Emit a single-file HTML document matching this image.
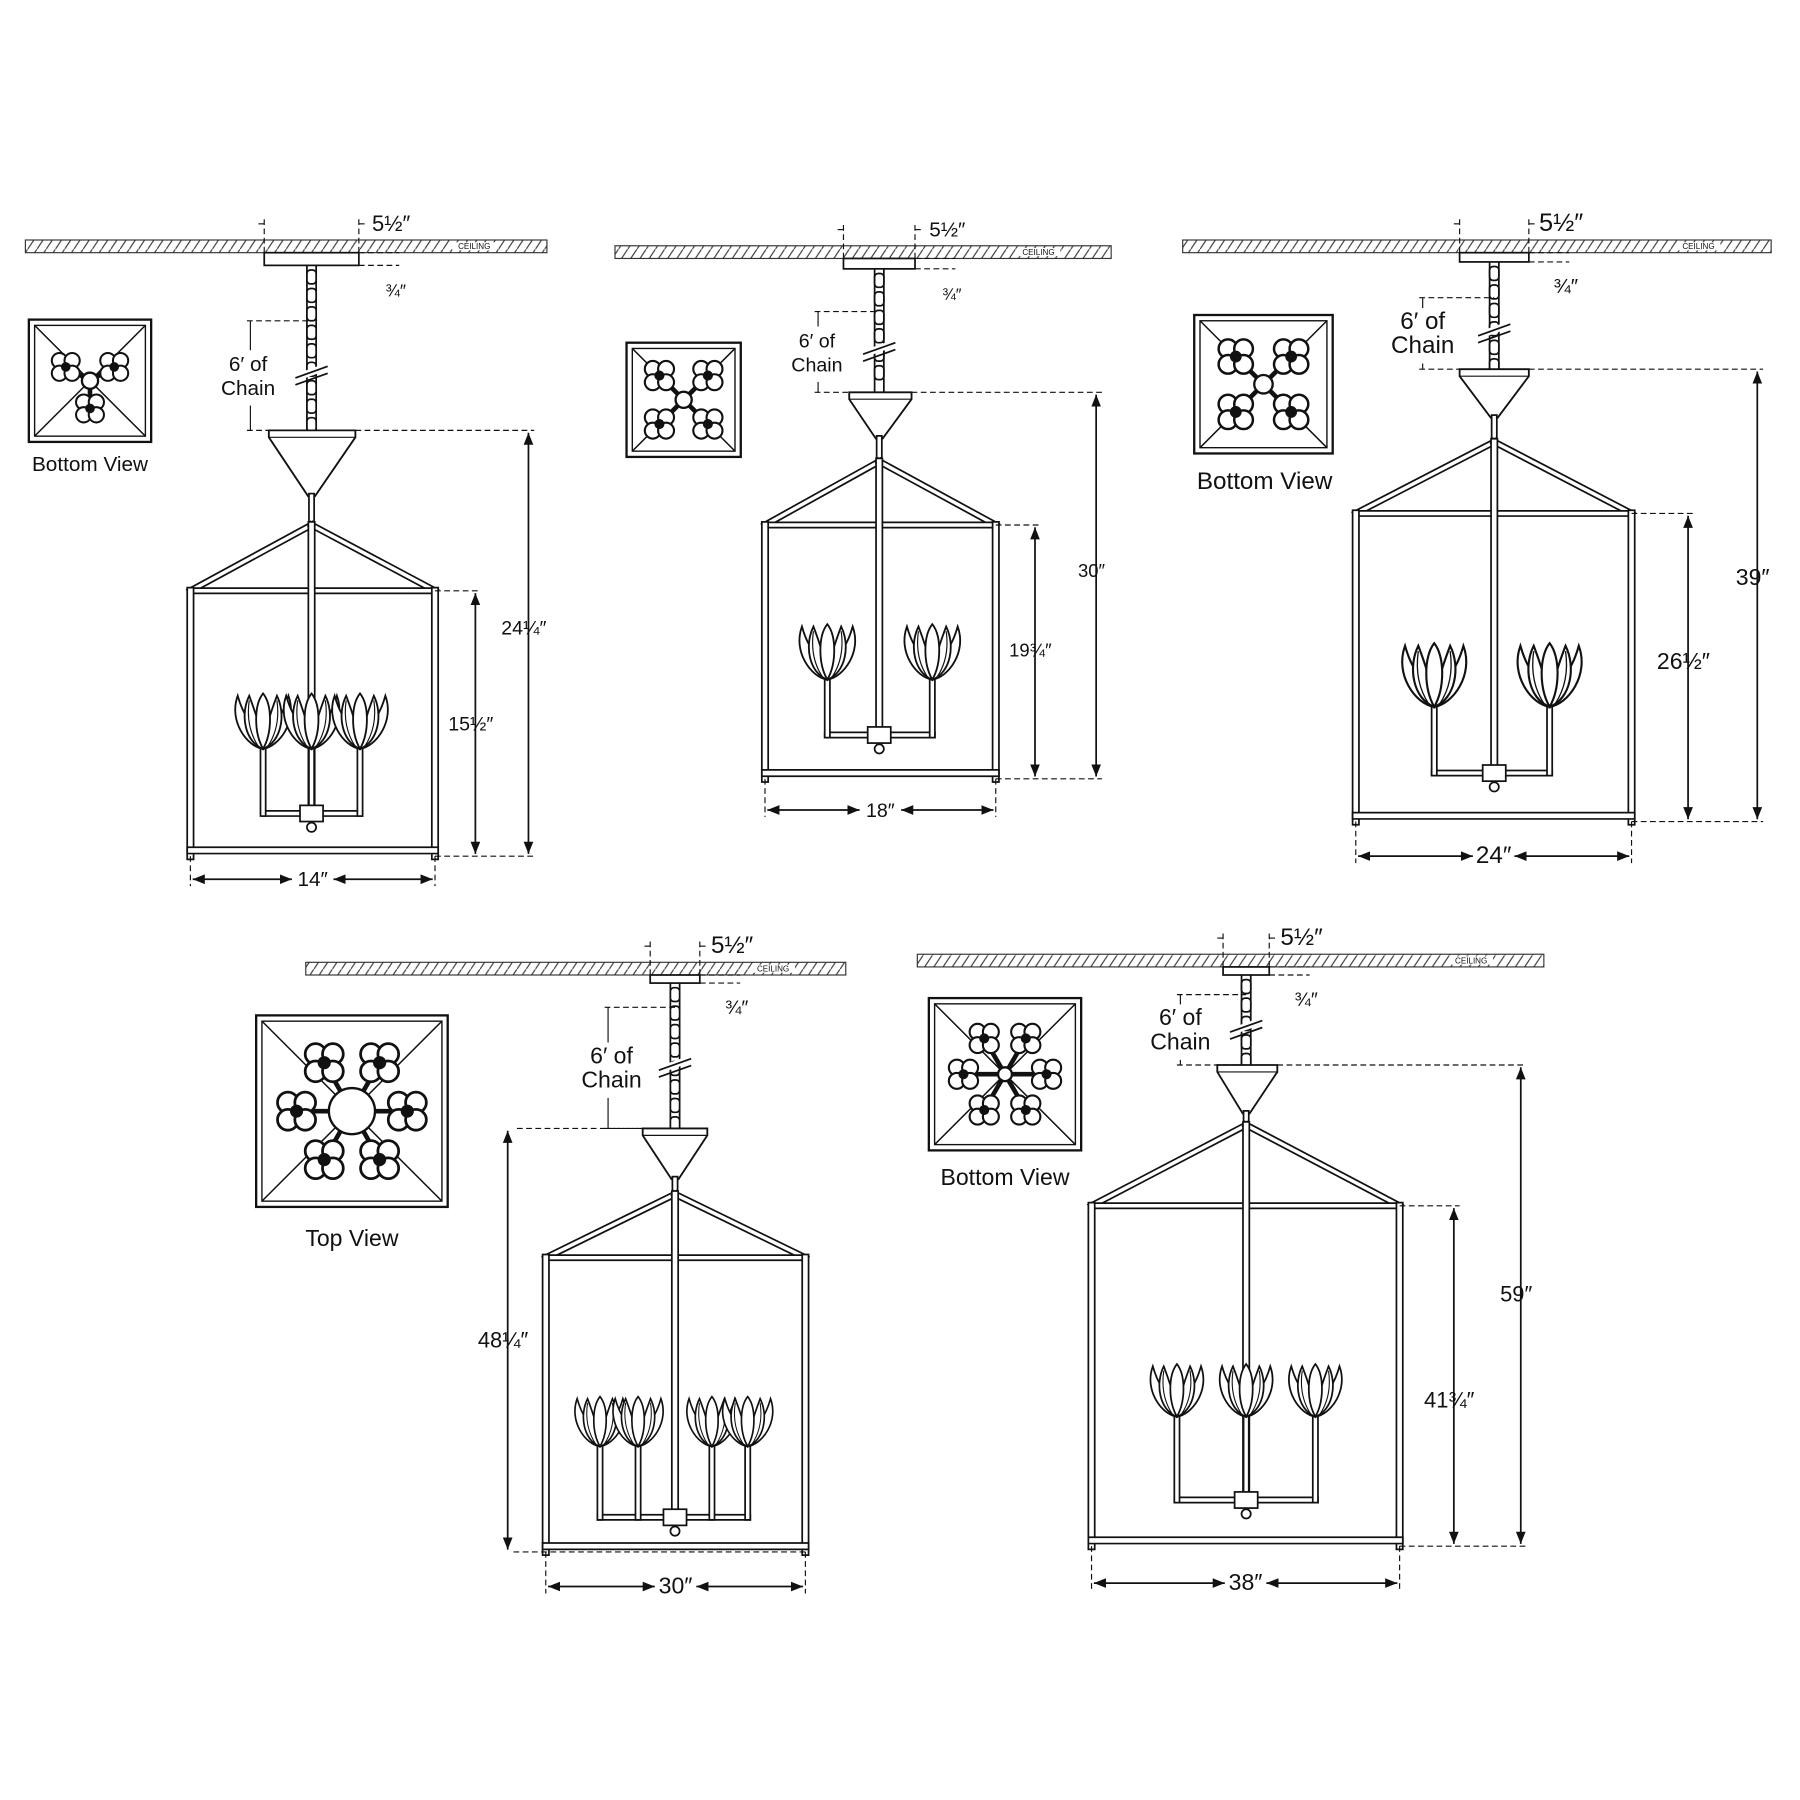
<!DOCTYPE html>
<html><head><meta charset="utf-8"><style>html,body{margin:0;padding:0;background:#fff}svg{display:block}</style></head>
<body>
<svg id="s" width="1800" height="1800" viewBox="0 0 1560 1560" xmlns="http://www.w3.org/2000/svg" font-family="Liberation Sans, sans-serif">
<defs>
<pattern id="h" width="8" height="12" patternUnits="userSpaceOnUse"><line x1="0" y1="12" x2="8" y2="0" stroke="#333" stroke-width="1"/></pattern>
<marker id="a" viewBox="0 0 10 10" refX="10" refY="5" markerWidth="7" markerHeight="7" orient="auto-start-reverse"><path d="M0,1 L10,5 L0,9 z" fill="#111"/></marker>
<g id="tulip" fill="#fff" stroke="#111" stroke-width="1.6">
<path d="M-22,-22 C-30,0 -14,22 0,24 C14,22 30,0 22,-22 C18,-8 12,4 0,6 C-12,4 -18,-8 -22,-22z"/>
<path d="M0,24 C-16,18 -20,-6 -12,-22 C-6,-6 -2,6 0,24z"/>
<path d="M0,24 C16,18 20,-6 12,-22 C6,-6 2,6 0,24z"/>
<path d="M0,24 C-8,10 -8,-14 0,-24 C8,-14 8,10 0,24z"/>
<path d="M-4,22 C-12,10 -14,-4 -12,-18 M4,22 C12,10 14,-4 12,-18" fill="none" stroke-width="1"/>
</g>
<g id="clover" fill="#fff" stroke="#111" stroke-width="1.6">
<circle cx="-5" cy="-5" r="6"/><circle cx="5" cy="-5" r="6"/><circle cx="-5" cy="5" r="6"/><circle cx="5" cy="5" r="6"/><circle r="3" fill="#111"/>
</g>
</defs>
<g id="root" fill="none" stroke="#111"></g>
</svg>
<script>
const R=document.getElementById('root');let o='';
function L(x1,y1,x2,y2,w,d){o+=`<line x1="${x1}" y1="${y1}" x2="${x2}" y2="${y2}" stroke-width="${w||1.5}"${d?' stroke-dasharray="5,3"':''}/>`}
function A(x1,y1,x2,y2){o+=`<line x1="${x1}" y1="${y1}" x2="${x2}" y2="${y2}" stroke-width="1.5" marker-start="url(#a)" marker-end="url(#a)"/>`}
function T(x,y,t,s,anc){o+=`<text x="${x}" y="${y}" font-size="${s||19}" fill="#111" stroke="none" text-anchor="${anc||'middle'}">${t}</text>`}
function bar(x1,y1,x2,y2,w){w=w||6;o+=`<line x1="${x1}" y1="${y1}" x2="${x2}" y2="${y2}" stroke="#111" stroke-width="${w}" stroke-linecap="square"/><line x1="${x1}" y1="${y1}" x2="${x2}" y2="${y2}" stroke="#fff" stroke-width="${w-3}" stroke-linecap="square"/>`}
function P(p){
 const {cl,cr,cy,cx,cw,ch,chainEnd,dash1,dashX,ct,cb,ch1,hy,bl,br,bb,rodEnd,al,ar,ay,fl,fy,fs,d1x,d2x,wy,ts,lab}=p;
 o+=`<rect x="${cl}" y="${cy}" width="${cr-cl}" height="11" fill="url(#h)" stroke="#333" stroke-width="1"/>`;
 o+=`<rect x="${cr-82}" y="${cy+2}" width="38" height="7" fill="#fff" stroke="none"/>`;
 T(cr-63,cy+8,'CEILING',7);
 o+=`<rect x="${cx-cw/2}" y="${cy+11}" width="${cw}" height="${ch}" fill="#fff" stroke-width="1.5"/>`;
 L(cx-cw/2,cy-18,cx-cw/2,cy+11,1,1);L(cx+cw/2,cy-18,cx+cw/2,cy+11,1,1);
 L(cx-cw/2-5,cy-14,cx-cw/2,cy-14,1);L(cx+cw/2,cy-14,cx+cw/2+5,cy-14,1);
 T(cx+cw/2+28,cy-8,'5½″',ts+1);
 L(cx+cw/2,cy+11,cx+cw/2+35,cy+11,1,1);L(cx+cw/2,cy+11+ch,cx+cw/2+35,cy+11+ch,1,1);
 T(cx+cw/2+32,cy+ch+38,'¾″',ts-3);
 const top=cy+11+ch;
 o+=`<line x1="${cx-4}" y1="${top}" x2="${cx-4}" y2="${chainEnd}" stroke-width="1.5"/><line x1="${cx+4}" y1="${top}" x2="${cx+4}" y2="${chainEnd}" stroke-width="1.5"/>`;
 for(let y=top+4;y<chainEnd-8;y+=16){o+=`<rect x="${cx-4}" y="${y}" width="8" height="12" rx="3" fill="#fff" stroke-width="1.5"/>`}
 const my=(dash1+chainEnd)/2;
 o+=`<line x1="${cx-14}" y1="${my+2}" x2="${cx+14}" y2="${my-8}" stroke="#fff" stroke-width="6"/>`;
 L(cx-14,my+2,cx+14,my-8,1.5);L(cx-14,my+8,cx+14,my-2,1.5);
 L(dashX,dash1,cx,dash1,1,1);L(dashX,chainEnd,cx,chainEnd,1,1);
 L(dashX+3,dash1,dashX+3,my-22,1);L(dashX+3,my+26,dashX+3,chainEnd,1);
 T(dashX+p.tdx,my-4,'6′ of',ts);T(dashX+p.tdx,my+17,'Chain',ts);
 o+=`<path d="M${ct[0]},${chainEnd} L${ct[1]},${chainEnd} L${ct[1]},${chainEnd+6} L${cx+3},${cb} L${cx-3},${cb} L${ct[0]},${chainEnd+6}z" fill="#fff" stroke-width="1.6"/>`;
 L(ct[0],chainEnd+6,ct[1],chainEnd+6,1);
 bar(cx,cb,cx,ch1,6);
 bar(cx,ch1,bl,hy,6);bar(cx,ch1,br,hy,6);
 bar(bl,hy,br,hy,6);bar(bl,hy,bl,bb,7);bar(br,hy,br,bb,7);bar(bl,bb-5,br,bb-5,7);
 bar(cx,ch1,cx,rodEnd,7);
 bar(al,ay,ar,ay,6);
 fl.forEach(x=>{bar(x,fy+18,x,ay,6)});
 o+=`<rect x="${cx-10}" y="${ay-7}" width="20" height="14" fill="#fff" stroke-width="1.5"/><circle cx="${cx}" cy="${ay+12}" r="4" fill="#fff" stroke-width="1.5"/>`;
 fl.forEach(x=>{o+=`<use href="#tulip" transform="translate(${x},${fy}) scale(${fs})"/>`});
 L(ct[1],chainEnd,d1x+5,chainEnd,1,1);A(d1x,chainEnd+2,d1x,bb-2);
 L(br,bb,d1x+5,bb,1,1);
 T(d1x-4,p.t1y,p.t1,ts-1);
 if(p.t2){L(br,hy,d2x+5,hy,1,1);A(d2x,hy+2,d2x,bb-2);T(d2x-4,p.t2y,p.t2,ts-1);}
 L(bl,bb,bl,wy+6,1,1);L(br,bb,br,wy+6,1,1);
 A(bl+2,wy,(bl+br)/2-18,wy);A(br-2,wy,(bl+br)/2+18,wy);
 T((bl+br)/2,wy+6,p.w,ts);
 const [vx,vy,vs]=p.vb;
 o+=`<rect x="${vx}" y="${vy}" width="${vs}" height="${vs}" stroke-width="2"/><rect x="${vx+5}" y="${vy+5}" width="${vs-10}" height="${vs-10}" stroke-width="1.2"/>`;
 L(vx+5,vy+5,vx+vs-5,vy+vs-5,1.3);L(vx+vs-5,vy+5,vx+5,vy+vs-5,1.3);
 const c=vx+vs/2,cy2=vy+vs/2;
 p.clv.forEach(([dx,dy,s])=>{L(c,cy2,c+dx,cy2+dy,4);o+=`<use href="#clover" transform="translate(${c+dx},${cy2+dy}) scale(${s})"/>`});
 o+=`<circle cx="${c}" cy="${cy2}" r="${p.cr2}" fill="#fff" stroke-width="2"/>`;
 if(lab)T(lab[0],lab[1],lab[2],ts);
}
function ring(n,r,s,a0){const a=[];for(let i=0;i<n;i++){const t=a0+i*2*Math.PI/n;a.push([Math.round(r*Math.cos(t)),Math.round(r*Math.sin(t)),s])}return a}
P({cl:22,cr:474,cy:208,cx:270,cw:82,ch:11,chainEnd:373,dash1:278,dashX:214,tdx:1,ct:[233,308],cb:430,ch1:455,hy:512,bl:165,br:377,bb:742,rodEnd:705,al:230,ar:312,ay:705,fl:[228,270,312],fy:625,fs:1,d1x:458,d2x:412,wy:762,ts:18,t1:'24¼″',t1y:550,t2:'15½″',t2y:633,w:'14″',vb:[25,277,106],clv:ring(3,24,1.1,-2.6),cr2:7,lab:[78,408,'Bottom View']});
P({cl:533,cr:963,cy:213,cx:762,cw:62,ch:9,chainEnd:340,dash1:270,dashX:706,tdx:2,ct:[736,790],cb:380,ch1:400,hy:455,bl:663,br:863,bb:675,rodEnd:637,al:717,ar:808,ay:637,fl:[717,808],fy:565,fs:1,d1x:950,d2x:897,wy:702,ts:17,t1:'30″',t1y:500,t2:'19¾″',t2y:569,w:'18″',vb:[543,297,99],clv:ring(4,30,1.15,Math.PI/4),cr2:7,lab:null});
P({cl:1025,cr:1535,cy:208,cx:1295,cw:60,ch:8,chainEnd:320,dash1:258,dashX:1230,tdx:3,ct:[1265,1325],cb:362,ch1:383,hy:445,bl:1175,br:1414,bb:712,rodEnd:670,al:1243,ar:1343,ay:670,fl:[1243,1343],fy:585,fs:1.15,d1x:1523,d2x:1463,wy:742,ts:21,t1:'39″',t1y:507,t2:'26½″',t2y:580,w:'24″',vb:[1035,273,120],clv:ring(4,34,1.35,Math.PI/4),cr2:8,lab:[1096,424,'Bottom View']});
P({cl:265,cr:733,cy:834,cx:585,cw:43,ch:7,chainEnd:978,dash1:873,dashX:524,tdx:6,ct:[557,613],cb:1022,ch1:1035,hy:1090,bl:473,br:698,bb:1345,rodEnd:1315,al:520,ar:648,ay:1315,fl:[520,553,617,648],fy:1232,fs:0.9,d1x:440,d2x:0,wy:1375,ts:20,t1:'48¼″',t1y:1168,t2:'',t2y:0,w:'30″',vb:[222,880,166],clv:ring(6,48,1.5,0),cr2:20,lab:[305,1080,'Top View']});
P({cl:795,cr:1338,cy:827,cx:1080,cw:40,ch:7,chainEnd:923,dash1:862,dashX:1020,tdx:3,ct:[1055,1107],cb:965,ch1:975,hy:1045,bl:946,br:1213,bb:1340,rodEnd:1300,al:1020,ar:1140,ay:1300,fl:[1020,1080,1140],fy:1205,fs:0.95,d1x:1318,d2x:1260,wy:1372,ts:20,t1:'59″',t1y:1128,t2:'41¾″',t2y:1220,w:'38″',vb:[805,865,132],clv:ring(6,36,1.15,0),cr2:6,lab:[871,1027,'Bottom View']});
R.innerHTML=o;
</script>
</body></html>
